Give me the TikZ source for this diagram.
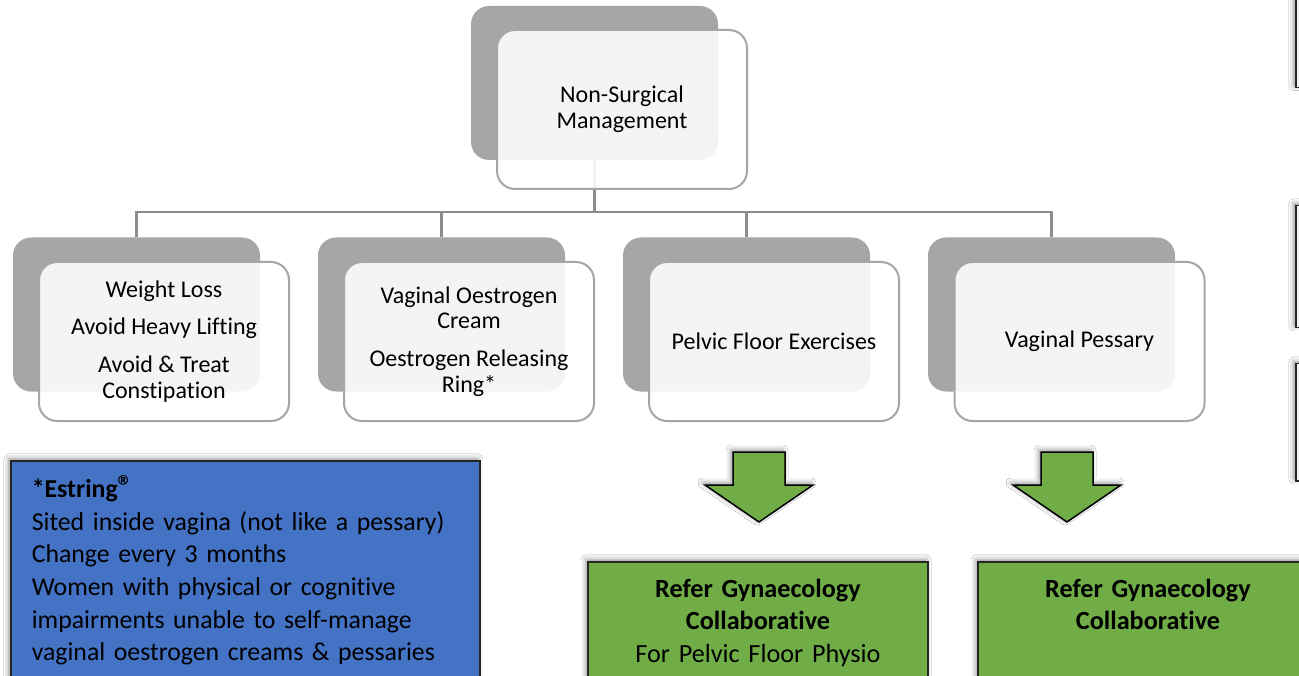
\documentclass[tikz,border=0pt]{standalone}
\usepackage{fontspec}
\setmainfont[Ligatures=NoCommon]{Carlito}
\usetikzlibrary{shadows.blur}
\definecolor{backgray}{HTML}{A6A6A6}
\definecolor{linegray}{HTML}{8C8C8C}
\definecolor{estblue}{HTML}{4472C4}
\definecolor{refgreen}{HTML}{70AD47}
\definecolor{edgedark}{HTML}{262626}
\newcommand{\regmark}{\raisebox{1pt}{\fontsize{30}{30}\selectfont ®}}
\tikzset{
  backbox/.style={fill=backgray, rounded corners=18pt, minimum width=247pt, minimum height=154pt, inner sep=0pt},
  frontbox/.style={draw=backgray, line width=2pt, fill=white, fill opacity=0.88, text opacity=1, rounded corners=18pt, minimum width=250pt, minimum height=159pt, align=center, inner sep=4pt, font=\fontsize{24}{25.8}\selectfont},
  conn/.style={draw=linegray, line width=2.5pt},
  softshadow/.style={blur shadow={shadow xshift=-2pt, shadow yshift=2pt, shadow blur radius=5pt, shadow opacity=45}},
  notebox/.style={softshadow, draw=edgedark, line width=1.5pt, fill=estblue, anchor=north west, align=left, text width=427pt, inner xsep=21pt, inner ysep=15pt, text depth=200pt, font=\fontsize{25.8}{32.6}\selectfont},
  referbox/.style={softshadow, draw=edgedark, line width=1.5pt, fill=refgreen, anchor=north, align=center, text width=320pt, inner xsep=10pt, inner ysep=17pt, text depth=110pt, font=\fontsize{26.2}{32.5}\selectfont},
  downarrow/.style={softshadow, draw=black, line width=1.5pt, fill=refgreen, line join=miter},
  edgebox/.style={softshadow, draw=edgedark, line width=1.5pt, fill=gray!8, anchor=north west, minimum width=45pt, inner sep=0pt}
}

\begin{document}
\begin{tikzpicture}[x=1pt, y=-1pt]
  \fill[white] (0,0) rectangle (1299,676);
  \useasboundingbox (0,0) rectangle (1299,676);

  \node[backbox] (rootbk) at (594.5,83) {};
  \node[backbox] (c1bk) at (136.5,314.5) {};
  \node[backbox] (c2bk) at (441.5,314.5) {};
  \node[backbox] (c3bk) at (746.5,314.5) {};
  \node[backbox] (c4bk) at (1051.5,314.5) {};

  \draw[conn] (rootbk.south) -- ++(0,52) coordinate (bar);
  \foreach \c in {c1bk,c2bk,c3bk,c4bk}
    \draw[conn] (bar) -| (\c.north);

  \node[frontbox] (rootfr) at (622,109.5) {Non-Surgical\\Management};
  \node[frontbox] (c1fr) at (164,341.5) {Weight Loss\\[11pt]Avoid Heavy Lifting\\[12pt]Avoid \& Treat\\Constipation};
  \node[frontbox] (c2fr) at (469,341.5) {Vaginal Oestrogen\\Cream\\[12pt]Oestrogen Releasing\\Ring*};
  \node[frontbox] (c3fr) at (774,341.5) {Pelvic Floor Exercises};
  \node[frontbox] (c4fr) at (1079.5,341.5) {Vaginal Pessary};

  \node[notebox] (estring) at (10,460) {\textbf{*Estring\regmark}\\
    Sited inside vagina (not like a pessary)\\
    Change every 3 months\\
    Women with physical or cognitive\\
    impairments unable to self-manage\\
    vaginal oestrogen creams \& pessaries};

  \foreach \ax in {759,1067}
    \draw[downarrow] (\ax-26,452) -- (\ax+26,452) -- (\ax+26,485) -- (\ax+54,485)
      -- (\ax,522) -- (\ax-54,485) -- (\ax-26,485) -- cycle;

  \node[referbox] (physio) at (758,561) {\textbf{Refer Gynaecology}\\\textbf{Collaborative}\\For Pelvic Floor Physio};
  \node[referbox] (pessary) at (1148,561) {\textbf{Refer Gynaecology}\\\textbf{Collaborative}};

  \node[edgebox, minimum height=107pt] (edgeA) at (1295,-20) {};
  \node[edgebox, minimum height=122pt] (edgeB) at (1295,205) {};
  \node[edgebox, minimum height=117pt] (edgeC) at (1295,363) {};
\end{tikzpicture}
\end{document}
